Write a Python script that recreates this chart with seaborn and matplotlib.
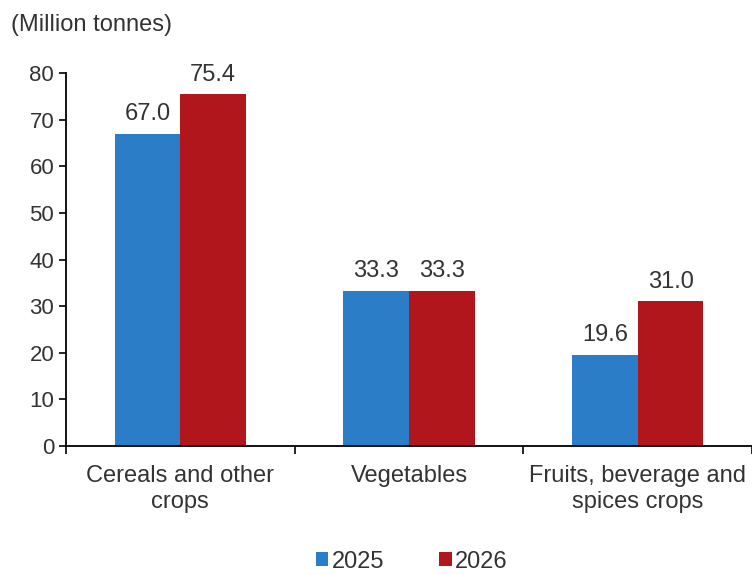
import pandas as pd
import seaborn as sns
import matplotlib.pyplot as plt
from matplotlib.ticker import FixedLocator

# Данные
categories = ['Cereals and other\ncrops', 'Vegetables', 'Fruits, beverage and\nspices crops']
years = ['2025', '2026']
values_2025 = [67.0, 33.3, 19.6]
values_2026 = [75.4, 33.3, 31.0]

df = pd.DataFrame({
    'category': categories * 2,
    'year': [years[0]] * 3 + [years[1]] * 3,
    'value': values_2025 + values_2026,
})

sns.set_style('white')
plt.rcParams['font.family'] = ['Liberation Sans', 'DejaVu Sans']
text_color = '#333333'

fig = plt.figure(figsize=(7.52, 5.75), dpi=100)
ax = fig.add_axes([0.0878, 0.2243, 0.9122, 0.6487])

sns.barplot(
    data=df, x='category', y='value', hue='year',
    palette=['#2A7DC6', '#B0161B'],
    width=0.575, gap=0, saturation=1, linewidth=0, ax=ax,
)

# Подписи значений
for cont in ax.containers:
    ax.bar_label(cont, fmt='%.1f', padding=6, fontsize=17, color=text_color)

ax.set_ylim(0, 80)
ax.set_xlim(-0.5, 2.5)
ax.set_yticks(range(0, 81, 10))
ax.set_xlabel('')
ax.set_ylabel('')

# Оси и деления
for side in ['top', 'right']:
    ax.spines[side].set_visible(False)
for side in ['left', 'bottom']:
    ax.spines[side].set_color('black')
    ax.spines[side].set_linewidth(1.3)

ax.tick_params(axis='y', length=5, width=1.2, color='black', labelsize=16,
               labelcolor=text_color, direction='out', left=True)
ax.tick_params(axis='x', which='major', length=0, labelsize=17,
               labelcolor=text_color, pad=14)
ax.xaxis.set_minor_locator(FixedLocator([-0.5, 0.5, 1.5, 2.5]))
ax.tick_params(axis='x', which='minor', length=6, width=1.2, color='black',
               direction='out', bottom=True)

# Заголовок оси
fig.text(0.014, 0.957, '(Million tonnes)', fontsize=17, color=text_color,
         ha='left', va='center')

# Легенда
ax.legend(loc='center', bbox_to_anchor=(0.504, -0.31), ncol=2, frameon=False,
          fontsize=17, handlelength=0.55, handleheight=0.55, handletextpad=0.15,
          columnspacing=2.3, labelcolor=text_color)

plt.savefig('out.png', dpi=100)
